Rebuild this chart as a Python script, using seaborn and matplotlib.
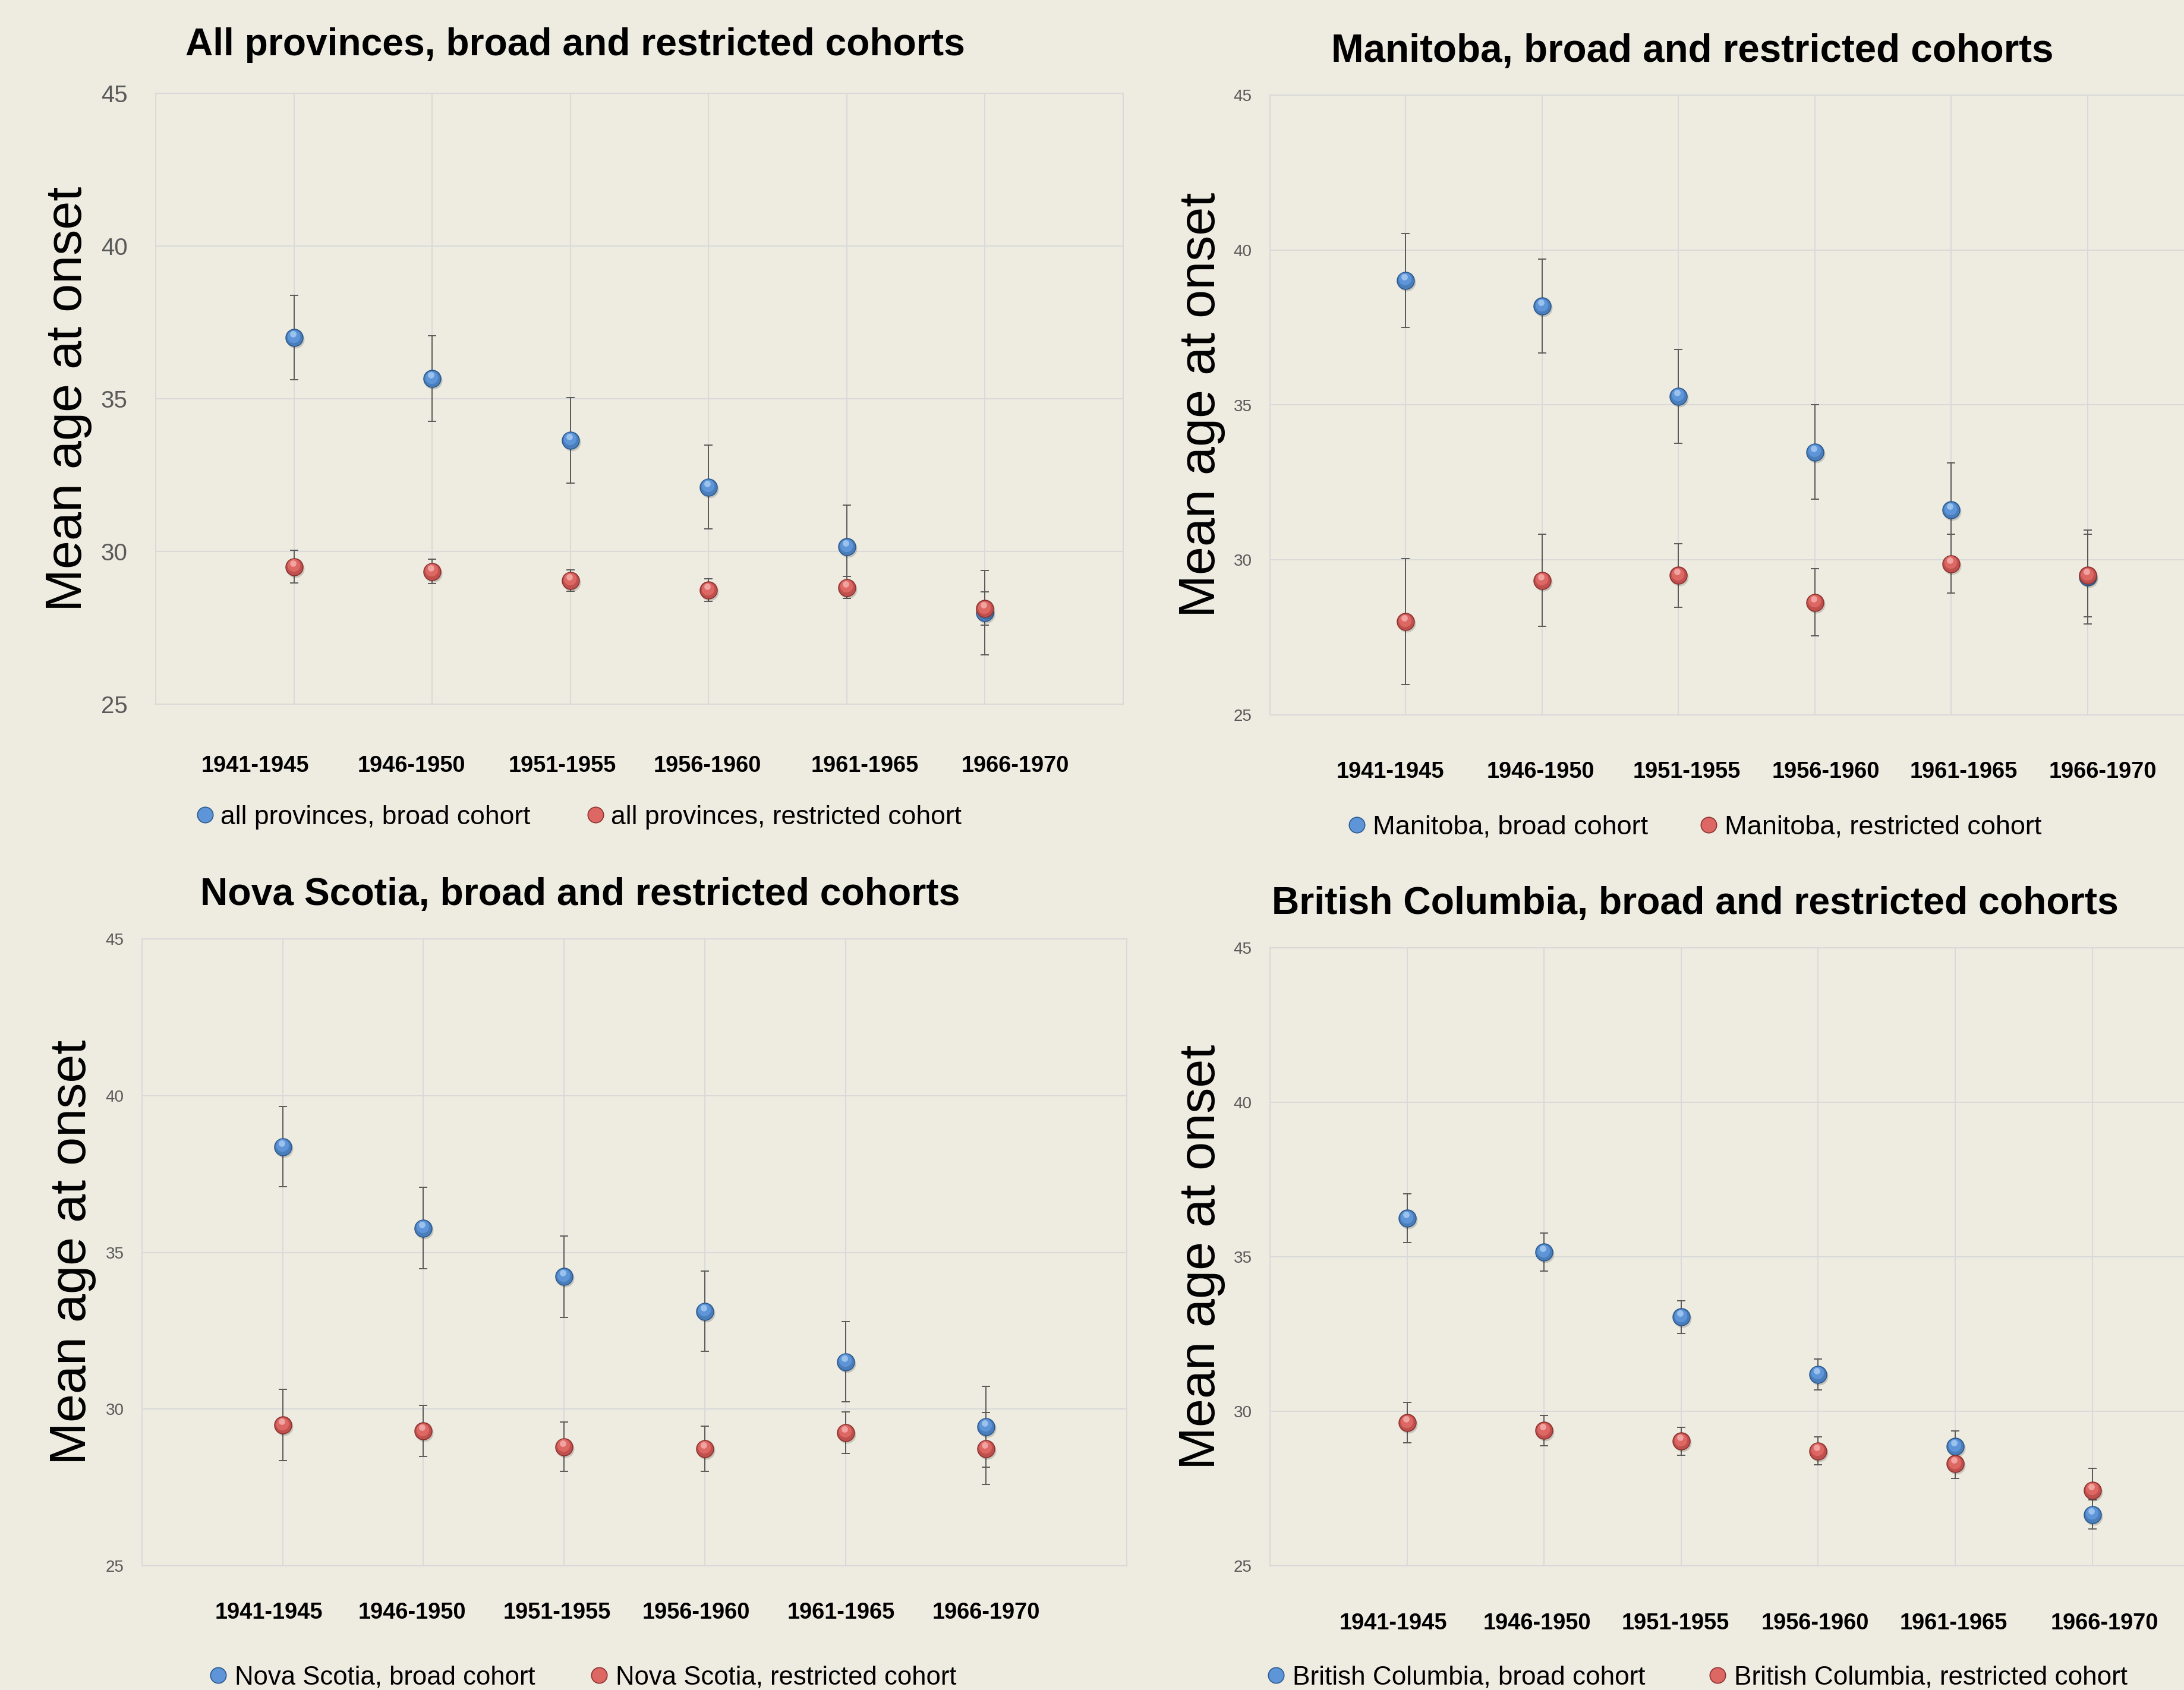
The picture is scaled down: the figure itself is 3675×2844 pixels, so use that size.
import numpy as np
import pandas as pd
import seaborn as sns
import matplotlib
matplotlib.use("Agg")
import matplotlib.pyplot as plt
from matplotlib.lines import Line2D
from matplotlib.transforms import ScaledTranslation

# ---------------- data ----------------
categories = ["1941-1945", "1946-1950", "1951-1955", "1956-1960", "1961-1965", "1966-1970"]

all_broad = [37.00, 35.66, 33.64, 32.11, 30.15, 27.99]
all_broad_err = [1.38, 1.40, 1.40, 1.38, 1.37, 1.38]
all_restr = [29.50, 29.34, 29.05, 28.73, 28.82, 28.13]
all_restr_err = [0.54, 0.40, 0.35, 0.37, 0.36, 0.55]

man_broad = [39.02, 38.19, 35.28, 33.48, 31.61, 29.45]
man_broad_err = [1.52, 1.52, 1.52, 1.52, 1.52, 1.52]
man_restr = [28.01, 29.34, 29.50, 28.63, 29.88, 29.50]
man_restr_err = [2.03, 1.49, 1.03, 1.08, 0.95, 1.33]

ns_broad = [38.37, 35.77, 34.23, 33.12, 31.51, 29.44]
ns_broad_err = [1.28, 1.30, 1.30, 1.28, 1.28, 1.29]
ns_restr = [29.49, 29.30, 28.80, 28.74, 29.25, 28.74]
ns_restr_err = [1.14, 0.81, 0.79, 0.72, 0.66, 1.15]

bc_broad = [36.25, 35.15, 33.05, 31.20, 28.86, 26.66]
bc_broad_err = [0.79, 0.62, 0.53, 0.50, 0.50, 0.47]
bc_restr = [29.63, 29.38, 29.03, 28.72, 28.30, 27.45]
bc_restr_err = [0.65, 0.49, 0.46, 0.46, 0.47, 0.71]

y_ticks = [25, 30, 35, 40, 45]

titles = ["All provinces, broad and restricted cohorts",
          "Manitoba, broad and restricted cohorts",
          "Nova Scotia, broad and restricted cohorts",
          "British Columbia, broad and restricted cohorts"]
legend_labels = [("all provinces, broad cohort", "all provinces, restricted cohort"),
                 ("Manitoba, broad cohort", "Manitoba, restricted cohort"),
                 ("Nova Scotia, broad cohort", "Nova Scotia, restricted cohort"),
                 ("British Columbia, broad cohort", "British Columbia, restricted cohort")]
y_label = "Mean age at onset"

# ---------------- style ----------------
sns.set_theme(style="white")
plt.rcParams["font.family"] = ["Liberation Sans", "DejaVu Sans"]

BG = "#EEECE1"
GRID = "#D9D9D9"
W, H = 3675, 2844
DPI = 100
fig = plt.figure(figsize=(W / DPI, H / DPI), dpi=DPI, facecolor=BG)
renderer = fig.canvas.get_renderer()


def fit_size(s, target_px, weight="normal"):
    t = fig.text(0, 0, s, fontsize=100, fontweight=weight)
    w = t.get_window_extent(renderer=renderer).width
    t.remove()
    return 100.0 * target_px / w


BLUE = dict(base="#4a7ebb", edge="#2c5a8f", mid="#5d95d8", hi="#a3c8f0")
RED = dict(base="#c0504d", edge="#8e3331", mid="#dc6763", hi="#f3aaa7")
S = 430

# layout specs (pixels of the full image)
panels = [
    dict(rect=(262, 157, 1890, 1185), xlim=(-1, 6), lab_x=[-0.28, 0.85, 1.94, 2.99, 4.13, 5.22],
         ytick_fs=29, ytick_pad=34, xtick_pad=62, title_c=968, title_base=93, title_w=1311,
         ylab_x=115, leg_y=1375, m1=345, t1=371, tw1=520, m2=1001, right_spine=True,
         data=(all_broad, all_broad_err, all_restr, all_restr_err)),
    dict(rect=(2137, 160, 3675, 1203), xlim=(-0.993, 5.706), lab_x=[-0.11, 0.99, 2.06, 3.08, 4.09, 5.11],
         ytick_fs=20, ytick_pad=22, xtick_pad=56, title_c=2848, title_base=104, title_w=1217,
         ylab_x=2022, leg_y=1392, m1=2283, t1=2310, tw1=464, m2=2876, right_spine=False,
         data=(man_broad, man_broad_err, man_restr, man_restr_err)),
    dict(rect=(239, 1580, 1896, 2635), xlim=(-1, 6), lab_x=[-0.10, 0.92, 1.95, 2.94, 3.97, 5.00],
         ytick_fs=20, ytick_pad=22, xtick_pad=44, title_c=976, title_base=1523, title_w=1278,
         ylab_x=122, leg_y=2823, m1=367, t1=395, tw1=504, m2=1006, right_spine=True,
         data=(ns_broad, ns_broad_err, ns_restr, ns_restr_err)),
    dict(rect=(2137, 1595, 3675, 2635), xlim=(-1, 5.67), lab_x=[-0.10, 0.95, 1.96, 2.98, 3.99, 5.09],
         ytick_fs=20, ytick_pad=22, xtick_pad=57, title_c=2852, title_base=1538, title_w=1424,
         ylab_x=2022, leg_y=2823, m1=2147, t1=2175, tw1=594, m2=2890, right_spine=False,
         data=(bc_broad, bc_broad_err, bc_restr, bc_restr_err)),
]

xpos = np.arange(len(categories))
xt_fs = fit_size("1941-1945", 182, weight="bold")
ylab_fs = fit_size(y_label, 716)


def draw_series(ax, y, err, col, z0):
    ax.errorbar(xpos, y, yerr=err, fmt="none", ecolor="#595959", elinewidth=1.4,
                capsize=4.7, capthick=1.4, zorder=2)
    shadow = ax.transData + ScaledTranslation(2 / DPI, -3 / DPI, fig.dpi_scale_trans)
    ax.scatter(xpos, y, s=S * 1.08, color="black", alpha=0.16, linewidths=0,
               transform=shadow, zorder=z0)
    df = pd.DataFrame({"x": xpos, "y": y})
    sns.scatterplot(data=df, x="x", y="y", ax=ax, s=S, color=col["base"],
                    edgecolor=col["edge"], linewidth=1.2, zorder=z0 + 1, legend=False)
    midt = ax.transData + ScaledTranslation(-1 / DPI, 2.5 / DPI, fig.dpi_scale_trans)
    ax.scatter(xpos, y, s=S * 0.55, color=col["mid"], linewidths=0, transform=midt, zorder=z0 + 2)
    hit = ax.transData + ScaledTranslation(-2 / DPI, 6 / DPI, fig.dpi_scale_trans)
    ax.scatter(xpos, y, s=S * 0.14, color=col["hi"], alpha=0.9, linewidths=0,
               transform=hit, zorder=z0 + 3)


for i, p in enumerate(panels):
    l, t, r, b = p["rect"]
    ax = fig.add_axes([l / W, 1 - b / H, (r - l) / W, (b - t) / H])
    ax.set_facecolor(BG)
    broad, broad_err, restr, restr_err = p["data"]
    draw_series(ax, broad, broad_err, BLUE, 3)
    draw_series(ax, restr, restr_err, RED, 8)

    ax.set_xlim(*p["xlim"])
    ax.set_ylim(25, 45)
    ax.set_yticks(y_ticks)
    ax.set_yticklabels([str(v) for v in y_ticks], fontsize=p["ytick_fs"], color="#595959")
    ax.set_xticks(xpos, minor=True)
    ax.set_xticks(p["lab_x"])
    ax.set_xticklabels(categories, fontsize=xt_fs, fontweight="bold", color="black", va="top")
    ax.tick_params(axis="y", length=0, pad=p["ytick_pad"])
    ax.tick_params(axis="x", which="both", length=0, pad=p["xtick_pad"])
    ax.grid(axis="y", which="major", color=GRID, lw=1.5)
    ax.grid(axis="x", which="minor", color=GRID, lw=1.5)
    ax.grid(axis="x", which="major", visible=False)
    ax.set_axisbelow(True)
    ax.set_xlabel("")
    ax.set_ylabel("")
    for name, sp in ax.spines.items():
        sp.set_color(GRID)
        sp.set_linewidth(1.5)
    ax.spines["right"].set_visible(p["right_spine"])

    # title
    tfs = fit_size(titles[i], p["title_w"], weight="bold")
    fig.text(p["title_c"] / W, 1 - p["title_base"] / H, titles[i], ha="center",
             va="baseline", fontsize=tfs, fontweight="bold", color="black")
    # y label
    fig.text(p["ylab_x"] / W, 1 - ((t + b) / 2) / H, y_label, rotation=90,
             ha="center", va="center", fontsize=ylab_fs, color="black")

    # legend
    lab1, lab2 = legend_labels[i]
    lfs = fit_size(lab1, p["tw1"])
    fs_px = lfs * DPI / 72
    hl = 26.0
    handle_left = p["m1"] - hl / 2
    htp = (p["t1"] - (handle_left + hl)) / fs_px
    csp = (p["m2"] - hl / 2 - (p["t1"] + p["tw1"])) / fs_px
    handles = [Line2D([], [], ls="none", marker="o", markersize=19,
                      markerfacecolor=c["mid"], markeredgecolor=c["edge"], markeredgewidth=1.2)
               for c in (BLUE, RED)]
    ax.legend(handles, [lab1, lab2], ncol=2, loc="center left",
              bbox_to_anchor=(handle_left / W, 1 - p["leg_y"] / H),
              bbox_transform=fig.transFigure, frameon=False, fontsize=lfs,
              handlelength=hl / fs_px, handletextpad=htp, columnspacing=csp,
              borderpad=0, borderaxespad=0, labelcolor="black")

fig.savefig("out.png", dpi=DPI, facecolor=BG)
